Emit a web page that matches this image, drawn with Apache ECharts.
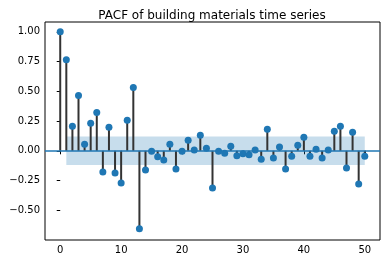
<!DOCTYPE html>
<html>
<head>
<meta charset="utf-8">
<script src="https://cdn.jsdelivr.net/npm/echarts@6/dist/echarts.min.js"></script>
<style>html,body{margin:0;padding:0;background:#fff}#c{width:390px;height:264px}</style>
</head>
<body>
<div id="c"></div>
<script>
var titleText = "PACF of building materials time series";
var lags = [];
for (var i = 0; i <= 50; i++) lags.push(i);
var pacfValues = [1.00, 0.766, 0.206, 0.465, 0.056, 0.231, 0.323, -0.178, 0.198, -0.187,
  -0.270, 0.256, 0.532, -0.655, -0.162, -0.003, -0.050, -0.078, 0.056, -0.153,
  -0.003, 0.089, 0.006, 0.131, 0.022, -0.312, -0.003, -0.020, 0.039, -0.042,
  -0.025, -0.033, 0.006, -0.070, 0.181, -0.061, 0.031, -0.153, -0.045, 0.047,
  0.114, -0.045, 0.014, -0.061, 0.006, 0.164, 0.206, -0.145, 0.156, -0.279,
  -0.045];
var confBand = 0.12;
var bandStartLag = 1;
var bandEndLag = 50;
var xTicks = [0, 10, 20, 30, 40, 50];
var yTickMin = -0.5;
var yTickMax = 1.0;

var pts = lags.map(function (l, i) { return [l, pacfValues[i]]; });
var font = "'DejaVu Sans', sans-serif";
function inY(v) { return v >= yTickMin - 1e-9 && v <= yTickMax + 1e-9; }
var chart = echarts.init(document.getElementById('c'), null, {renderer: 'canvas'});
chart.setOption({
  animation: false,
  title: {
    text: titleText, left: 207, top: 5, textAlign: 'center',
    textStyle: {fontFamily: font, fontSize: 12, fontWeight: 'normal', color: '#000'}
  },
  grid: {left: 45, right: 10, top: 22, bottom: 24, show: true, borderColor: '#000', borderWidth: 1, backgroundColor: 'transparent'},
  xAxis: {
    type: 'value', min: -2.5, max: 52.5,
    axisLine: {show: false},
    splitLine: {show: false},
    axisTick: {show: true, length: 3.5, inside: false, customValues: xTicks, lineStyle: {color: '#000'}},
    axisLabel: {customValues: xTicks, fontFamily: font, fontSize: 10, color: '#000', margin: 5}
  },
  yAxis: {
    type: 'value', min: -0.75, max: 1.083, interval: 0.25,
    axisLine: {show: false},
    splitLine: {show: false},
    axisTick: {show: true, length: 3.5, lineStyle: {color: '#000'},
      interval: function (idx, v) { return inY(Number(v)); }},
    axisLabel: {fontFamily: font, fontSize: 10, color: '#000', margin: 5,
      showMinLabel: false, showMaxLabel: false,
      formatter: function (v) {
        if (!inY(v)) return '';
        var s = Math.abs(v).toFixed(2); return (v < -1e-9 ? '\u2212' : '') + s; }}
  },
  series: [
    {
      type: 'bar', data: pts, barWidth: 2, itemStyle: {color: '#333333'}, z: 2,
      markArea: {
        silent: true,
        itemStyle: {color: 'rgba(31,119,180,0.25)'},
        data: [[{coord: [bandStartLag, -confBand]}, {coord: [bandEndLag, confBand]}]]
      }
    },
    {
      type: 'scatter', data: pts, symbolSize: 7, itemStyle: {color: '#1f77b4', opacity: 1}, z: 3,
      markLine: {
        silent: true, symbol: 'none', label: {show: false},
        lineStyle: {color: '#1f77b4', width: 1.5, type: 'solid'},
        data: [{yAxis: 0}]
      }
    }
  ]
});
</script>
</body>
</html>
